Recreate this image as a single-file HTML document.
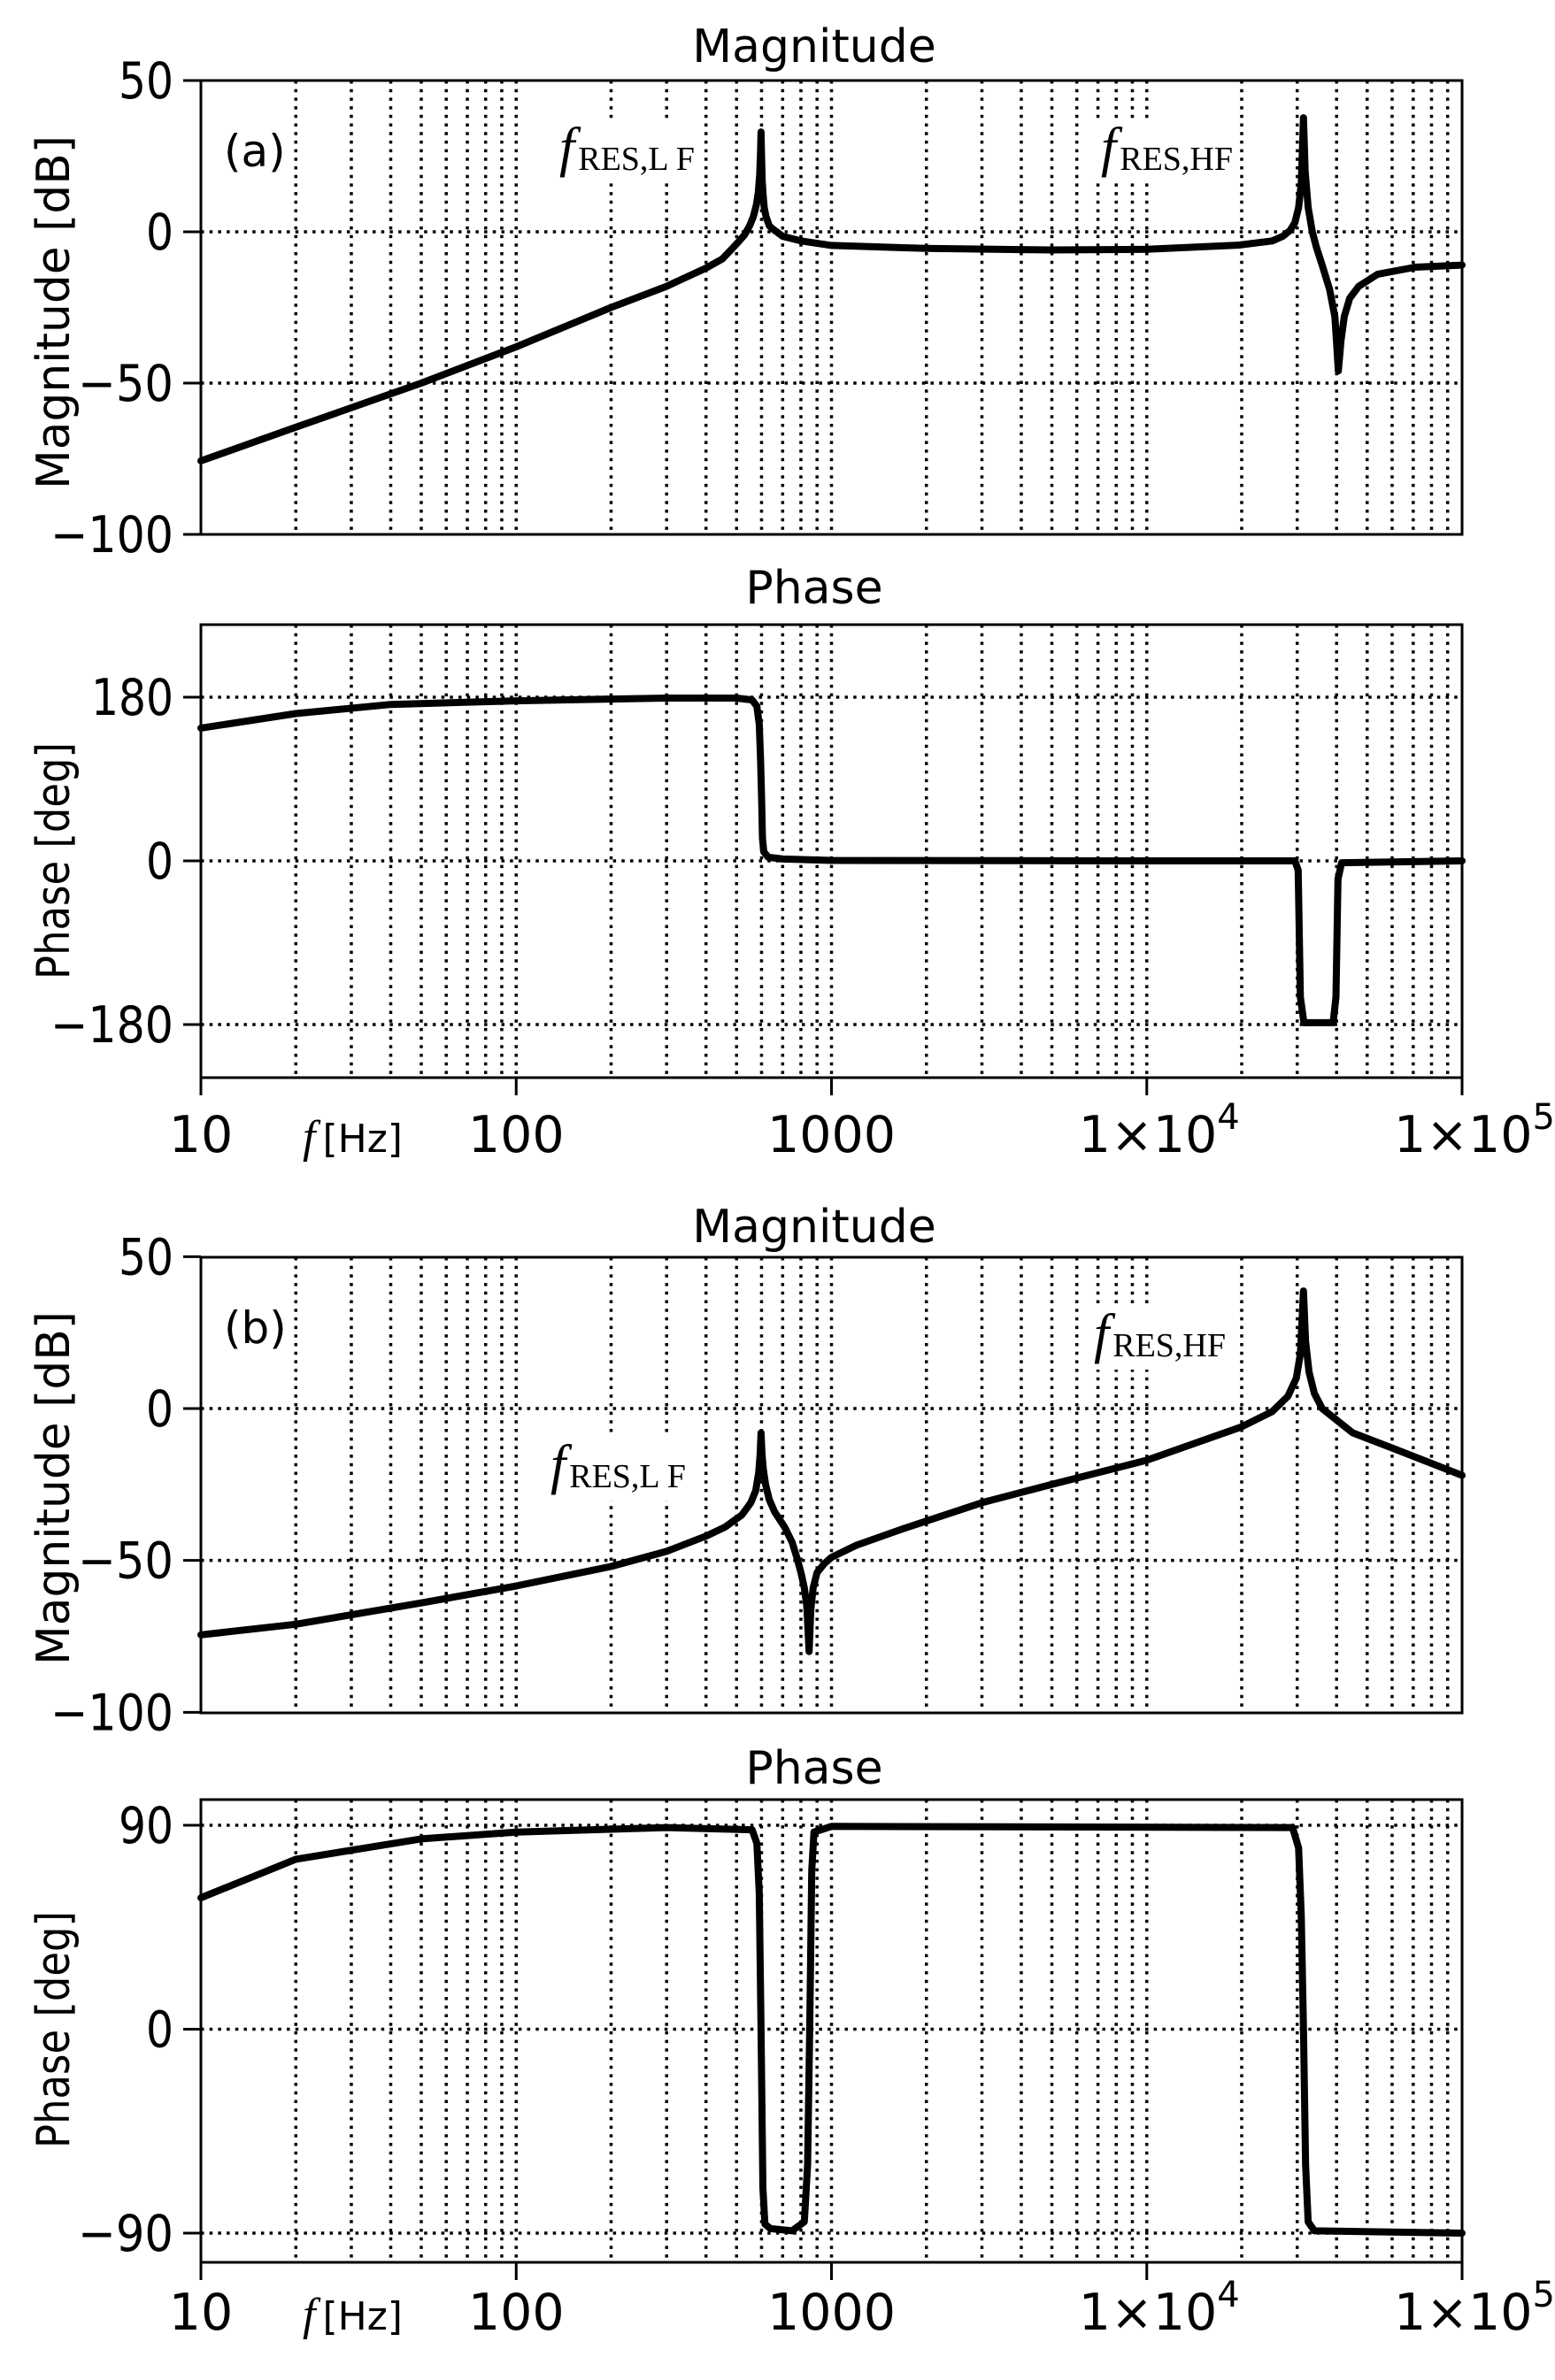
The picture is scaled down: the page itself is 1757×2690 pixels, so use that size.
<!DOCTYPE html>
<html><head><meta charset="utf-8">
<style>
html,body{margin:0;padding:0;background:#fff;}
svg{display:block;}
text{font-family:"DejaVu Sans","Liberation Sans",sans-serif;fill:#000;}
.serif{font-family:"Liberation Serif",serif;}
</style></head>
<body>
<svg id="chart" width="1757" height="2690" viewBox="0 0 1757 2690" xmlns="http://www.w3.org/2000/svg"></svg>
<script>
// ---- data (frequency in Hz, value in dB or deg) ----
const magAFreq = [10,20,50,100,200,300,400,450,480,510,530,550,565,578,586,592,596,598,600,603,607,612,620,635,650,700,800,1000,2000,5000,10000,19600,25000,27000,28500,29500,30300,30900,31400,31800,32500,33500,34500,36000,38000,39500,40500,41300,42300,44000,47000,54000,71000,100000];
const magAVal  = [-75.7,-64.6,-50,-38,-25,-18,-12,-9,-6,-3,-1,2,5,9,13,19,27,33,25,17,12,8,5,2,1,-1.5,-3,-4.5,-5.5,-6,-5.8,-4.4,-3,-1.5,0.5,3,8,16,37.7,20,8,0,-5,-11,-19,-28,-46,-36,-28,-22,-18,-14,-11.7,-11];
const phAFreq  = [10,20,40,100,300,500,560,580,590,596,600,604,610,630,700,1000,10000,29500,30200,30700,31500,39000,39800,40400,41500,100000];
const phAVal   = [146,162,172,176,179,179,177,170,150,110,70,25,10,4,2,0.5,0,0,-10,-150,-178,-178,-150,-20,-2,0];
const magBFreq = [10,20,50,100,200,300,400,460,520,555,575,588,594,598,602,608,618,635,660,710,750,776,800,820,835,849,860,875,900,950,1000,1200,1683,3000,5000,10000,20000,25000,28000,29800,30700,31400,31900,32700,34000,36000,45000,60000,100000];
const magBVal  = [-74.5,-71,-64,-58.4,-52,-47,-42,-39,-35,-31,-27,-21,-15,-8,-15,-20,-25,-30,-34,-39,-44,-49,-54,-59,-65,-80,-66,-59,-54,-51,-49,-45,-39.6,-31,-25,-17,-6,-1,4,10,18,38.7,22,12,5,0,-8,-13,-22];
const phBFreq  = [10,20,50,100,300,560,580,590,598,606,615,640,750,820,840,853,866,880,1000,29000,30300,30900,31400,31900,32500,34000,100000];
const phBVal   = [58,75,84,87,89,88,82,60,0,-70,-86,-88,-89,-85,-60,0,70,87,89.5,89,80,50,0,-60,-85,-89,-90];
const xTickExp = [1,2,3,4,5];
const xTickLabels = ["10","100","1000","1×10^4","1×10^5"];
const magTicks = [50,0,-50,-100];
const phATicks = [180,0,-180];
const phBTicks = [90,0,-90];

const NS="http://www.w3.org/2000/svg";
const svg=document.getElementById('chart');
function el(tag,attrs,parent){const e=document.createElementNS(NS,tag);for(const k in attrs)e.setAttribute(k,attrs[k]);(parent||svg).appendChild(e);return e;}

const X0=227,X1=1652;
function xs(f){return X0+(Math.log10(f)-1)*(X1-X0)/4;}

function panel(cfg){
  const g=el('g',{});
  
  
  const y=v=>cfg.yRef-(v-cfg.vRef)*cfg.scale;
  for(let d=1;d<=4;d++){for(let m=1;m<=9;m++){const f=Math.pow(10,d)*m;if(f<=10||f>=100000)continue;
    const gl=el('line',{x1:xs(f),x2:xs(f),y1:cfg.top,y2:cfg.bot,stroke:'#000','stroke-width':3.5,'stroke-dasharray':'3.5 6.2'},g);
    
    }}
  cfg.ticks.forEach(t=>{const yy=y(t);
    if(yy>cfg.top+2&&yy<cfg.bot-2){const hl=el('line',{x1:X0,x2:X1,y1:yy,y2:yy,stroke:'#000','stroke-width':3.5,'stroke-dasharray':'3.5 6.2'},g);
      
      }
    el('line',{x1:X0-20,x2:X0,y1:yy,y2:yy,stroke:'#000','stroke-width':3},g);
    const s=String(Math.abs(t));
    const w=s.length*31+(t<0?46:0);
    const tl=el('text',{x:196,y:yy+20,'text-anchor':'end','font-size':57,textLength:w,lengthAdjust:'spacingAndGlyphs'},g);
    tl.textContent=(t<0?'\u2212':'')+s;
    
    
  });
  (cfg.labels||[]).forEach(L=>{
    el('rect',{x:L.x-6,y:L.y-52,width:L.w,height:72,fill:'#fff'},g);
    const t=el('text',{x:L.x,y:L.y,'class':'serif'},g);
    
    
    const a=el('tspan',{'font-style':'italic','font-size':62},t);a.textContent='f';
    const b=el('tspan',{'font-size':38,dx:4,dy:5},t);b.textContent=L.sub;
  });
  const fr=el('rect',{x:X0,y:cfg.top,width:X1-X0,height:cfg.bot-cfg.top,fill:'none',stroke:'#000','stroke-width':3},g);
  
  
  const pts=cfg.freq.map((f,i)=>xs(f).toFixed(1)+','+y(cfg.vals[i]).toFixed(1)).join(' ');
  const pl=el('polyline',{points:pts,fill:'none',stroke:'#000','stroke-width':8,'stroke-linejoin':'round','stroke-linecap':'round'},g);
  
  
  const ti=el('text',{x:920,y:cfg.titleY,'text-anchor':'middle','font-size':52},g);
  ti.textContent=cfg.title;
  
  
  const yl=el('text',{x:0,y:0,'text-anchor':'middle','font-size':52,transform:`translate(78,${cfg.ylabelY}) rotate(-90)`,textLength:cfg.ylabelLen,lengthAdjust:'spacingAndGlyphs'},g);
  yl.textContent=cfg.ylabel;
  
  
  if(cfg.xaxis){
    xTickExp.forEach((e,i)=>{const xx=xs(Math.pow(10,e));
      el('line',{x1:xx,x2:xx,y1:cfg.bot,y2:cfg.bot+20,stroke:'#000','stroke-width':3},g);
      const t=el('text',{x:xx,y:cfg.xlabY,'text-anchor':'middle','font-size':57},g);
      
      
      const s=xTickLabels[i];
      if(s.indexOf('^')>=0){const [b,p]=s.split('^');const a=el('tspan',{},t);a.textContent=b;const q=el('tspan',{dy:-26,'font-size':40},t);q.textContent=p;t.setAttribute('x',xx+14);}
      else t.textContent=s;
    });
    const xt=el('text',{x:342,y:cfg.xlabY,'font-size':44},g);
    
    
    const a=el('tspan',{'font-style':'italic','font-size':52,'class':'serif'},xt);a.textContent='f';
    const b=el('tspan',{dx:8},xt);b.textContent='[Hz]';
  }
  if(cfg.tag){const t=el('text',{x:253,y:cfg.tagY,'font-size':50},g);t.textContent=cfg.tag;
    
    }
}

panel({name:'magnitude-a',top:91,bot:604,yRef:262,vRef:0,scale:171/50,ticks:magTicks,freq:magAFreq,vals:magAVal,title:'Magnitude',titleY:70,ylabel:'Magnitude [dB]',ylabelY:353,ylabelLen:400,tag:'(a)',tagY:188,
  labels:[{name:'f-res-lf-label',x:632,y:187,sub:'RES,L F',w:150},{name:'f-res-hf-label',x:1244,y:187,sub:'RES,HF',w:150}]});
panel({name:'phase-a',top:706,bot:1218,yRef:973,vRef:0,scale:185/180,ticks:phATicks,freq:phAFreq,vals:phAVal,title:'Phase',titleY:682,ylabel:'Phase [deg]',ylabelY:973,ylabelLen:268,xaxis:true,xlabY:1302});
panel({name:'magnitude-b',top:1421,bot:1936,yRef:1592,vRef:0,scale:515/150,ticks:magTicks,freq:magBFreq,vals:magBVal,title:'Magnitude',titleY:1404,ylabel:'Magnitude [dB]',ylabelY:1682,ylabelLen:400,tag:'(b)',tagY:1518,
  labels:[{name:'f-res-lf-label',x:622,y:1676,sub:'RES,L F',w:150},{name:'f-res-hf-label',x:1236,y:1528,sub:'RES,HF',w:150}]});
panel({name:'phase-b',top:2034,bot:2557,yRef:2293.5,vRef:0,scale:461/180,ticks:phBTicks,freq:phBFreq,vals:phBVal,title:'Phase',titleY:2016,ylabel:'Phase [deg]',ylabelY:2294,ylabelLen:268,xaxis:true,xlabY:2633});
</script>
</body></html>
